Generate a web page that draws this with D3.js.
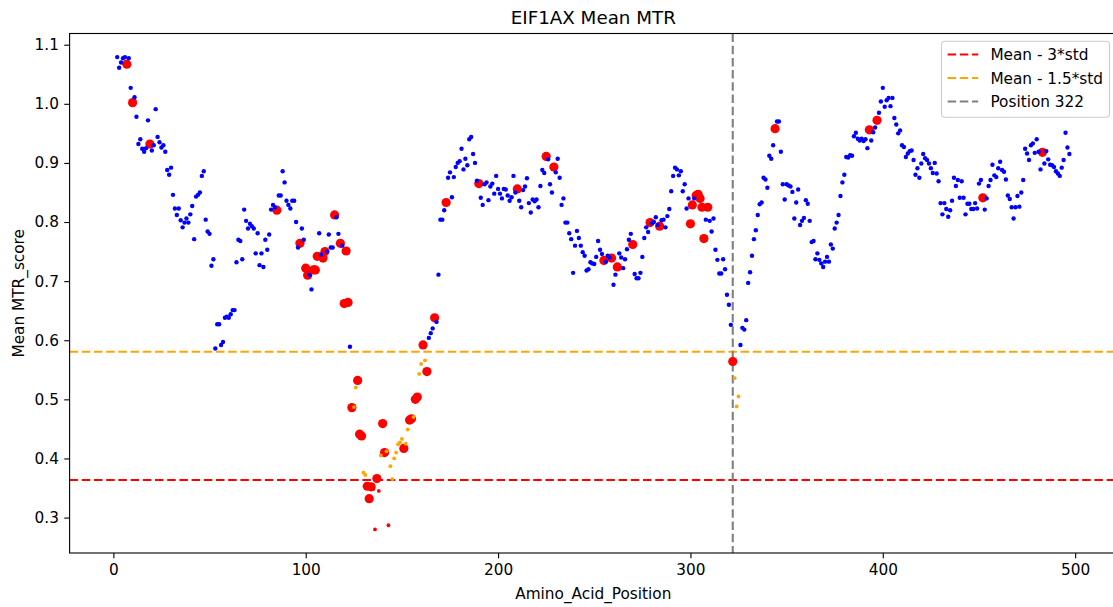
<!DOCTYPE html>
<html>
<head>
<meta charset="utf-8">
<script src="https://cdn.jsdelivr.net/npm/d3@7"></script>
<style>
  body { margin: 0; background: #fff; }
  svg { display: block; }
  text { font-family: "DejaVu Sans", sans-serif; fill: #000; }
</style>
</head>
<body>
<svg id="chart" width="1113" height="607"></svg>
<script>
// ---- data -------------------------------------------------------------
const title = "EIF1AX Mean MTR";
const xLabel = "Amino_Acid_Position";
const yLabel = "Mean MTR_score";

// first residue with a score; meanMTR[i] belongs to position firstPosition + i
const firstPosition = 2;
const meanMTR = [
  1.079,1.061,1.070,1.077,1.079,1.067,1.077,1.027,1.002,1.011,   // 2-11
  0.978,0.932,0.940,0.924,0.919,0.925,0.972,0.932,0.921,0.930,   // 12-21
  0.991,0.944,0.935,0.926,0.930,0.919,0.888,0.880,0.892,0.846,   // 22-31
  0.823,0.812,0.823,0.803,0.791,0.799,0.806,0.799,0.813,0.827,   // 32-41
  0.771,0.843,0.846,0.850,0.878,0.886,0.804,0.784,0.780,0.726,   // 42-51
  0.737,0.586,0.627,0.627,0.592,0.597,0.638,0.640,0.638,0.644,   // 52-61
  0.651,0.651,0.732,0.770,0.768,0.737,0.821,0.802,0.789,0.797,   // 62-71
  0.793,0.789,0.747,0.781,0.727,0.747,0.724,0.770,0.753,0.779,   // 72-81
  0.821,0.829,0.825,0.820,0.845,0.845,0.886,0.867,0.836,0.829,   // 82-91
  0.823,0.836,0.836,0.800,0.757,0.764,0.789,0.770,0.722,0.710,   // 92-101
  0.710,0.686,0.719,0.719,0.742,0.781,0.745,0.739,0.750,0.750,   // 102-111
  0.779,0.757,0.757,0.812,0.808,0.780,0.764,0.760,0.662,0.751,   // 112-121
  0.664,0.589,0.486,0.487,0.520,0.532,0.441,0.438,0.376,0.372,   // 122-131
  0.353,0.332,0.352,0.348,0.280,0.366,0.345,0.405,0.459,0.410,   // 132-141
  0.412,0.287,0.387,0.365,0.400,0.410,0.424,0.427,0.433,0.417,   // 142-151
  0.425,0.449,0.465,0.467,0.470,0.500,0.504,0.543,0.560,0.592,   // 152-161
  0.566,0.547,0.604,0.612,0.620,0.638,0.631,0.711,0.804,0.804,   // 162-171
  0.820,0.833,0.875,0.884,0.842,0.876,0.893,0.900,0.903,0.924,   // 172-181
  0.889,0.907,0.896,0.940,0.944,0.915,0.900,0.870,0.865,0.841,   // 182-191
  0.829,0.864,0.867,0.837,0.860,0.865,0.848,0.878,0.856,0.848,   // 192-201
  0.840,0.856,0.855,0.845,0.836,0.842,0.878,0.850,0.856,0.836,   // 202-211
  0.825,0.854,0.860,0.874,0.832,0.816,0.838,0.835,0.838,0.825,   // 212-221
  0.861,0.888,0.883,0.911,0.906,0.864,0.850,0.893,0.884,0.907,   // 222-231
  0.875,0.829,0.840,0.799,0.799,0.781,0.771,0.714,0.760,0.785,   // 232-241
  0.773,0.760,0.749,0.743,0.718,0.720,0.732,0.730,0.729,0.741,   // 242-251
  0.768,0.753,0.746,0.735,0.733,0.743,0.740,0.739,0.694,0.711,   // 252-261
  0.724,0.747,0.740,0.722,0.737,0.754,0.770,0.780,0.762,0.712,   // 262-271
  0.705,0.705,0.714,0.741,0.773,0.791,0.783,0.799,0.798,0.800,   // 272-281
  0.808,0.795,0.793,0.803,0.804,0.791,0.810,0.822,0.852,0.878,   // 282-291
  0.892,0.889,0.879,0.886,0.852,0.864,0.823,0.840,0.797,0.829,   // 292-301
  0.840,0.845,0.847,0.840,0.825,0.772,0.804,0.825,0.802,0.784,   // 302-311
  0.806,0.753,0.736,0.713,0.713,0.737,0.720,0.677,0.660,0.626,   // 312-321
  0.564,0.536,0.488,0.505,0.592,0.621,0.618,0.634,0.697,0.715,   // 322-331
  0.743,0.771,0.786,0.812,0.830,0.833,0.875,0.872,0.858,0.912,   // 332-341
  0.907,0.930,0.958,0.970,0.970,0.919,0.864,0.838,0.864,0.862,   // 342-351
  0.860,0.851,0.806,0.833,0.855,0.795,0.802,0.807,0.837,0.831,   // 352-361
  0.802,0.766,0.768,0.737,0.747,0.736,0.730,0.724,0.733,0.741,   // 362-371
  0.733,0.762,0.755,0.789,0.799,0.812,0.844,0.867,0.880,0.910,   // 372-381
  0.909,0.913,0.912,0.945,0.951,0.941,0.938,0.941,0.937,0.940,   // 382-391
  0.925,0.956,0.938,0.952,0.960,0.972,0.985,1.004,1.027,0.995,   // 392-401
  1.006,1.010,0.996,1.010,0.976,0.965,0.950,0.955,0.930,0.927,   // 402-411
  0.910,0.916,0.920,0.921,0.905,0.880,0.891,0.875,0.899,0.915,   // 412-421
  0.908,0.905,0.899,0.891,0.883,0.900,0.882,0.869,0.832,0.813,   // 422-431
  0.832,0.822,0.809,0.820,0.836,0.875,0.861,0.871,0.841,0.869,   // 432-441
  0.841,0.813,0.831,0.831,0.822,0.822,0.832,0.823,0.865,0.871,   // 442-451
  0.841,0.821,0.840,0.861,0.871,0.897,0.879,0.876,0.891,0.902,   // 452-461
  0.888,0.885,0.872,0.845,0.839,0.825,0.806,0.825,0.844,0.826,   // 462-471
  0.850,0.871,0.924,0.916,0.905,0.930,0.933,0.917,0.940,0.919,   // 472-481
  0.889,0.918,0.899,0.920,0.906,0.897,0.896,0.893,0.886,0.882,   // 482-491
  0.878,0.892,0.905,0.951,0.926,0.915                            // 492-497
];

// positions drawn as large red markers
const variantPositions = [
  7, 10, 19, 85, 97, 100, 101, 104, 105, 106, 109, 110, 115, 118, 120, 121, 122,
  124, 127, 128, 129, 132, 133, 134, 137, 140, 141, 151, 154, 155, 157, 158, 161,
  163, 167, 173, 190, 210, 225, 229, 255, 259, 262, 270, 279, 284, 300, 301, 303,
  304, 305, 306, 307, 309, 322, 344, 393, 397, 452, 483
];

// reference lines
const threshold3Std = 0.3635;    // mean - 3*std
const threshold15Std = 0.5805;   // mean - 1.5*std
const markedPosition = 322;

const xTicks = [0, 100, 200, 300, 400, 500];
const yTicks = [0.3, 0.4, 0.5, 0.6, 0.7, 0.8, 0.9, 1.0, 1.1];

const legendLabels = ["Mean - 3*std", "Mean - 1.5*std", "Position 322"];

// ---- layout ------------------------------------------------------------
const plot = { left: 69.6, top: 33.5, right: 1117, bottom: 553 };
const fontSize = 15.3;
const tickLen = 5.35, tickPad = 5.35;
const C = { blue: "#0000ff", orange: "#ffa500", red: "#ff0000", grey: "#808080" };

const points = meanMTR.map((v, i) => ({ pos: firstPosition + i, value: v }));
const variantSet = new Set(variantPositions);

function padded(ext) {
  const r = ext[1] - ext[0];
  return [ext[0] - 0.05 * r, ext[1] + 0.05 * r];
}
const x = d3.scaleLinear()
  .domain(padded(d3.extent(points, d => d.pos)))
  .range([plot.left, plot.right]);
const y = d3.scaleLinear()
  .domain(padded(d3.extent(points, d => d.value)))
  .range([plot.bottom, plot.top]);

const svg = d3.select("#chart");
svg.append("rect").attr("width", 1113).attr("height", 607).attr("fill", "#fff");

// ---- reference lines ---------------------------------------------------
const dash = "8.5,3.7";
const lines = svg.append("g");
lines.append("line")
  .attr("x1", plot.left).attr("x2", plot.right)
  .attr("y1", y(threshold3Std)).attr("y2", y(threshold3Std))
  .attr("stroke", C.red).attr("stroke-width", 2.1).attr("stroke-dasharray", dash);
lines.append("line")
  .attr("x1", plot.left).attr("x2", plot.right)
  .attr("y1", y(threshold15Std)).attr("y2", y(threshold15Std))
  .attr("stroke", C.orange).attr("stroke-width", 2.1).attr("stroke-dasharray", dash);
lines.append("line")
  .attr("x1", x(markedPosition)).attr("x2", x(markedPosition))
  .attr("y1", plot.top).attr("y2", plot.bottom)
  .attr("stroke", C.grey).attr("stroke-width", 2.1).attr("stroke-dasharray", dash);

// ---- markers -----------------------------------------------------------
const variants = points.filter(d => variantSet.has(d.pos));
const others = points.filter(d => !variantSet.has(d.pos));

svg.append("g").selectAll("circle").data(variants).join("circle")
  .attr("cx", d => x(d.pos)).attr("cy", d => y(d.value))
  .attr("r", 4.6).attr("fill", C.red);

function colourFor(v) {
  if (v < threshold3Std) return C.red;
  if (v < threshold15Std) return C.orange;
  return C.blue;
}
svg.append("g").selectAll("circle").data(others).join("circle")
  .attr("cx", d => x(d.pos)).attr("cy", d => y(d.value))
  .attr("r", d => d.value < threshold15Std ? 1.9 : 2.2)
  .attr("fill", d => colourFor(d.value));

// ---- axes --------------------------------------------------------------
const xAxis = svg.append("g")
  .attr("transform", `translate(0,${plot.bottom})`)
  .call(d3.axisBottom(x).tickValues(xTicks).tickFormat(d3.format("d"))
    .tickSize(tickLen).tickPadding(tickPad).tickSizeOuter(0));
const yAxis = svg.append("g")
  .attr("transform", `translate(${plot.left},0)`)
  .call(d3.axisLeft(y).tickValues(yTicks).tickFormat(d3.format(".1f"))
    .tickSize(tickLen).tickPadding(tickPad).tickSizeOuter(0));
[xAxis, yAxis].forEach(g => {
  g.select(".domain").remove();
  g.selectAll(".tick line").attr("stroke", "#000").attr("stroke-width", 1.1);
  g.selectAll(".tick text").attr("font-size", fontSize)
    .attr("font-family", "DejaVu Sans").attr("fill", "#000");
});

// frame
svg.append("rect")
  .attr("x", plot.left).attr("y", plot.top)
  .attr("width", plot.right - plot.left).attr("height", plot.bottom - plot.top)
  .attr("fill", "none").attr("stroke", "#000").attr("stroke-width", 1.1);

// ---- titles ------------------------------------------------------------
svg.append("text")
  .attr("x", (plot.left + plot.right) / 2).attr("y", 24)
  .attr("text-anchor", "middle").attr("font-size", 18.3)
  .text(title);
svg.append("text")
  .attr("x", (plot.left + plot.right) / 2).attr("y", 599)
  .attr("text-anchor", "middle").attr("font-size", fontSize)
  .text(xLabel);
svg.append("text")
  .attr("transform", `translate(24,${(plot.top + plot.bottom) / 2}) rotate(-90)`)
  .attr("text-anchor", "middle").attr("font-size", fontSize)
  .text(yLabel);

// ---- legend ------------------------------------------------------------
const legendColours = [C.red, C.orange, C.grey];
const lg = svg.append("g");
const box = { x: 941.5, y: 41.2, w: 168, h: 76 };
lg.append("rect")
  .attr("x", box.x).attr("y", box.y).attr("width", box.w).attr("height", box.h)
  .attr("rx", 3.5).attr("fill", "#fff").attr("fill-opacity", 0.8)
  .attr("stroke", "#cccccc").attr("stroke-width", 1.1);
legendLabels.forEach((label, i) => {
  const cy = 54.5 + i * 23.5;
  lg.append("line")
    .attr("x1", box.x + 6.1).attr("x2", box.x + 6.1 + 30.6)
    .attr("y1", cy).attr("y2", cy)
    .attr("stroke", legendColours[i]).attr("stroke-width", 2.1)
    .attr("stroke-dasharray", dash);
  lg.append("text")
    .attr("x", box.x + 6.1 + 30.6 + 12.2).attr("y", cy + 5.5)
    .attr("font-size", fontSize)
    .text(label);
});
</script>
</body>
</html>
